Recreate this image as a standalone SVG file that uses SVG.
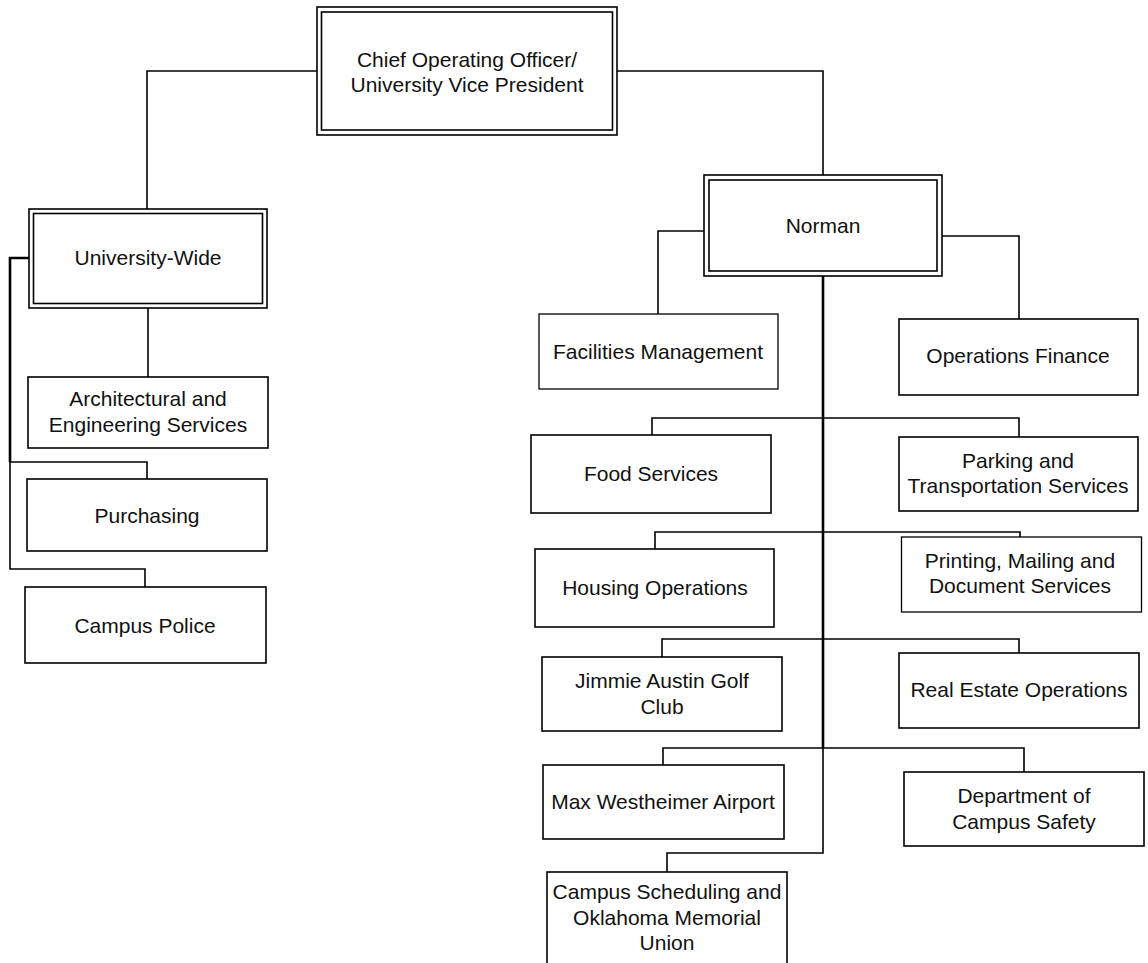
<svg xmlns="http://www.w3.org/2000/svg" width="1148" height="963" viewBox="0 0 1148 963">
<style>
.b{fill:#fff;stroke:#000;stroke-width:1.6}
.t{fill:#fff;stroke:#000;stroke-width:1.3}
.c{fill:none;stroke:#000;stroke-width:1.6}
.k{fill:none;stroke:#000;stroke-width:2.6}
text{font-family:"Liberation Sans",Arial,sans-serif;font-size:21px;fill:#111;text-anchor:middle}
</style>
<rect width="1148" height="963" fill="#fff"/>
<g id="connectors">
<path class="c" d="M317,71H147V209"/>
<path class="c" d="M617,71H823V175"/>
<path class="c" d="M148,308V377"/>
<path class="k" d="M29,258H10V462"/>
<path class="c" d="M10,462V569H145V587"/>
<path class="c" d="M10,462H147V479"/>
<path class="c" d="M705,231H658V314"/>
<path class="c" d="M942,236H1019V319"/>
<path class="k" d="M823,276V748"/>
<path class="c" d="M823,748V853H667V872"/>
<path class="c" d="M652,435V418H1019V437"/>
<path class="c" d="M655,549V532H1020V537"/>
<path class="c" d="M662,657V639H1019V653"/>
<path class="c" d="M663,765V748H1024V772"/>
</g>
<g id="coo">
<rect class="b" x="317" y="7" width="300" height="128"/>
<rect class="b" x="321.5" y="12" width="291" height="118"/>
<text x="467" y="66.5">Chief Operating Officer/</text>
<text x="467" y="92">University Vice President</text>
</g>
<g id="university-wide">
<rect class="b" x="29" y="209" width="238" height="99"/>
<rect class="b" x="33.5" y="213.5" width="229" height="90"/>
<text x="148" y="265">University-Wide</text>
</g>
<g id="arch">
<rect class="b" x="28" y="377" width="240" height="71"/>
<text x="148" y="405.5">Architectural and</text>
<text x="148" y="431.5">Engineering Services</text>
</g>
<g id="purchasing">
<rect class="b" x="27" y="479" width="240" height="72"/>
<text x="147" y="522.5">Purchasing</text>
</g>
<g id="campus-police">
<rect class="b" x="25" y="587" width="241" height="76"/>
<text x="145" y="632.5">Campus Police</text>
</g>
<g id="norman">
<rect class="b" x="704" y="175" width="238" height="101"/>
<rect class="b" x="709" y="180" width="228" height="91"/>
<text x="823" y="232.5">Norman</text>
</g>
<g id="facilities">
<rect class="t" x="539" y="314" width="239" height="75"/>
<text x="658" y="359">Facilities Management</text>
</g>
<g id="ops-finance">
<rect class="b" x="899" y="319" width="239" height="76"/>
<text x="1018" y="362.5">Operations Finance</text>
</g>
<g id="food">
<rect class="b" x="531" y="435" width="240" height="78"/>
<text x="651" y="481">Food Services</text>
</g>
<g id="parking">
<rect class="b" x="899" y="437" width="239" height="74"/>
<text x="1018" y="468">Parking and</text>
<text x="1018" y="493">Transportation Services</text>
</g>
<g id="housing">
<rect class="b" x="535" y="549" width="239" height="78"/>
<text x="655" y="595">Housing Operations</text>
</g>
<g id="printing">
<rect class="t" x="901.5" y="537" width="240" height="75"/>
<text x="1020" y="568">Printing, Mailing and</text>
<text x="1020" y="593">Document Services</text>
</g>
<g id="jimmie">
<rect class="b" x="542" y="657" width="240" height="74"/>
<text x="662" y="688">Jimmie Austin Golf</text>
<text x="662" y="714">Club</text>
</g>
<g id="real-estate">
<rect class="b" x="899" y="653" width="240" height="75"/>
<text x="1019" y="696.5">Real Estate Operations</text>
</g>
<g id="airport">
<rect class="b" x="543" y="765" width="241" height="74"/>
<text x="663" y="809">Max Westheimer Airport</text>
</g>
<g id="campus-safety">
<rect class="b" x="904" y="772" width="240" height="74"/>
<text x="1024" y="803">Department of</text>
<text x="1024" y="829">Campus Safety</text>
</g>
<g id="scheduling">
<rect class="b" x="547" y="872" width="240" height="100"/>
<text x="667" y="899">Campus Scheduling and</text>
<text x="667" y="925">Oklahoma Memorial</text>
<text x="667" y="950">Union</text>
</g>
</svg>
